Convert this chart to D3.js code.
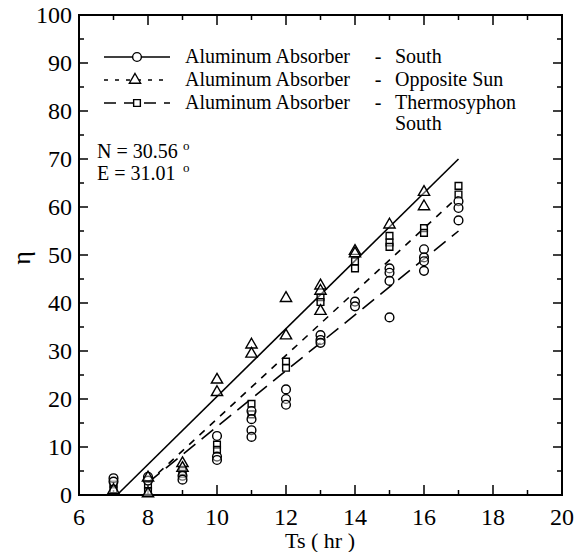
<!DOCTYPE html>
<html>
<head>
<meta charset="utf-8">
<script src="https://cdn.jsdelivr.net/npm/d3@7"></script>
<style>
  body { margin: 0; background: #fff; }
</style>
</head>
<body>
<script>
// measured points, by hour
const southX = [7, 7, 8, 8, 9, 9, 10, 10, 10, 11, 11, 11, 11, 12, 12, 12, 13, 13, 13, 14, 14, 15, 15, 15, 15, 16, 16, 16, 16, 17, 17, 17];
const southY = [3.5, 2.8, 3.8, 3.0, 4.0, 3.2, 12.3, 8.0, 7.3, 17.5, 15.8, 13.5, 12.1, 22, 20, 18.8, 33.3, 32.3, 31.7, 40.3, 39.3, 47.2, 46.3, 44.6, 37, 51.2, 49.5, 48.7, 46.7, 61.2, 59.8, 57.2];

const oppX = [7, 8, 8, 9, 9, 10, 10, 11, 11, 12, 12, 13, 13, 13, 14, 14, 15, 16, 16];
const oppY = [1.0, 3.6, 0.3, 6.6, 5.6, 24.0, 21.4, 31.3, 29.4, 41.0, 33.2, 43.6, 42.5, 38.3, 50.8, 50.3, 56.3, 63.1, 60.1];

const thermoX = [7, 7, 8, 8, 9, 9, 10, 10, 11, 11, 12, 12, 13, 13, 14, 14, 15, 15, 15, 16, 16, 17, 17];
const thermoY = [2.2, 1.2, 2.0, 0.8, 5.0, 4.4, 10.5, 9.4, 19.0, 16.8, 27.8, 26.5, 41.2, 40.2, 48.7, 47.2, 54.0, 52.6, 51.7, 55.6, 54.6, 64.4, 62.6];

// fitted lines (end points)
const southLineX = [7.1, 17], southLineY = [0, 70];
const oppLineX = [8, 17], oppLineY = [2.6, 62.2];
const thermoLineX = [8, 17], thermoLineY = [2.6, 55];

const xTicks = [6, 8, 10, 12, 14, 16, 18, 20];
const yTicks = [0, 10, 20, 30, 40, 50, 60, 70, 80, 90, 100];

const legendLabels = ["South", "Opposite Sun", "Thermosyphon"];
const noteLines = ["N = 30.56", "E = 31.01"];

const width = 576, height = 552;
const plotL = 79, plotR = 562, plotT = 15, plotB = 495;
const serif = "'Liberation Serif', 'DejaVu Serif', serif";

let svg = d3.select("body").append("svg")
    .attr("width", width)
    .attr("height", height)
    .attr("font-family", serif);

let x = d3.scaleLinear().domain([6, 20]).range([plotL, plotR]);
let y = d3.scaleLinear().domain([0, 100]).range([plotB, plotT]);

        //ticks, all pointing inward
let g = svg.append("g").attr("stroke", "#000").attr("stroke-width", 1.5);
d3.range(6, 20.5, 1).forEach(function (t) {
    let len = t % 2 === 0 ? 10 : 5;
    g.append("line").attr("x1", x(t)).attr("x2", x(t)).attr("y1", plotB).attr("y2", plotB - len);
    g.append("line").attr("x1", x(t)).attr("x2", x(t)).attr("y1", plotT).attr("y2", plotT + len);
});
d3.range(0, 100.5, 5).forEach(function (t) {
    let len = t % 10 === 0 ? 9 : 5;
    g.append("line").attr("y1", y(t)).attr("y2", y(t)).attr("x1", plotL).attr("x2", plotL + len);
    g.append("line").attr("y1", y(t)).attr("y2", y(t)).attr("x1", plotR).attr("x2", plotR - len);
});

svg.append("rect")
    .attr("x", plotL).attr("y", plotT)
    .attr("width", plotR - plotL).attr("height", plotB - plotT)
    .attr("fill", "none").attr("stroke", "#000").attr("stroke-width", 2);

        //tick labels
svg.selectAll(".xl").data(xTicks).enter().append("text")
    .attr("x", d => x(d)).attr("y", 525)
    .attr("text-anchor", "middle").attr("font-size", 24)
    .text(d => d);
svg.selectAll(".yl").data(yTicks).enter().append("text")
    .attr("x", 72).attr("y", d => y(d) + 8)
    .attr("text-anchor", "end").attr("font-size", 24)
    .text(d => d);

svg.append("text").attr("x", 320).attr("y", 548)
    .attr("text-anchor", "middle").attr("font-size", 22)
    .text("Ts ( hr )");
svg.append("text")
    .attr("transform", "translate(30,258) rotate(-90)")
    .attr("text-anchor", "middle").attr("font-size", 26)
    .text("η");

        //fitted lines
let line = d3.line().x(d => x(d[0])).y(d => y(d[1]));
function drawLine(xs, ys, dash) {
    svg.append("path")
        .datum(d3.zip(xs, ys))
        .attr("d", line)
        .attr("fill", "none").attr("stroke", "#000").attr("stroke-width", 1.6)
        .attr("stroke-dasharray", dash);
}
drawLine(southLineX, southLineY, null);
drawLine(oppLineX, oppLineY, "7,7");
drawLine(thermoLineX, thermoLineY, "15,8");

        //markers
let sym = {
    circle: d3.symbol().type(d3.symbolCircle).size(60),
    triangle: d3.symbol().type(d3.symbolTriangle).size(55),
    square: d3.symbol().type(d3.symbolSquare).size(45)
};
function drawPoints(xs, ys, s) {
    svg.append("g").selectAll("path")
        .data(d3.zip(xs, ys))
        .enter().append("path")
        .attr("d", sym[s])
        .attr("transform", d => `translate(${x(d[0])},${y(d[1])})`)
        .attr("fill", "#fff").attr("fill-opacity", 0.4)
        .attr("stroke", "#000").attr("stroke-width", 1.4);
}
drawPoints(thermoX, thermoY, "square");
drawPoints(southX, southY, "circle");
drawPoints(oppX, oppY, "triangle");

        //legend
let rows = [
    {y: 57, base: 63, dash: null, s: "circle", mx: 137},
    {y: 80, base: 86, dash: "4,7", s: "triangle", mx: 135},
    {y: 103, base: 109, dash: "12,8", s: "square", mx: 137}
];
rows.forEach(function (r, i) {
    svg.append("line").attr("x1", 104).attr("x2", 170).attr("y1", r.y).attr("y2", r.y)
        .attr("stroke", "#000").attr("stroke-width", 1.5).attr("stroke-dasharray", r.dash);
    svg.append("path").attr("d", sym[r.s]).attr("transform", `translate(${r.mx},${r.y})`)
        .attr("fill", "#fff").attr("stroke", "#000").attr("stroke-width", 1.4);
    svg.append("text").attr("x", 185).attr("y", r.base).attr("font-size", 20).text("Aluminum Absorber");
    svg.append("text").attr("x", 378).attr("y", r.base).attr("text-anchor", "middle").attr("font-size", 20).text("-");
    svg.append("text").attr("x", 395).attr("y", r.base).attr("font-size", 20).text(legendLabels[i]);
});
svg.append("text").attr("x", 395).attr("y", 130).attr("font-size", 20).text("South");

        //location note
noteLines.forEach(function (s, i) {
    let base = 158 + i * 22;
    svg.append("text").attr("x", 97).attr("y", base).attr("font-size", 20).text(s);
    svg.append("text").attr("x", 183).attr("y", base - 8).attr("font-size", 13).text("o");
});
</script>
</body>
</html>
